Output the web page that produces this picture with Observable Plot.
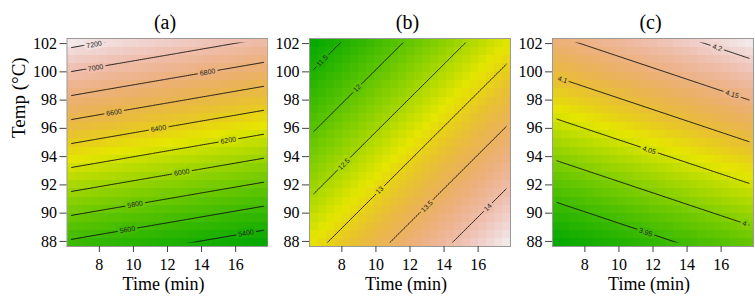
<!DOCTYPE html>
<html>
<head>
<meta charset="utf-8">
<script src="https://cdn.jsdelivr.net/npm/d3@7"></script>
<script src="https://cdn.jsdelivr.net/npm/@observablehq/plot@0.6"></script>
<style>
  html, body { margin: 0; padding: 0; background: #fff; }
  #row { display: flex; flex-direction: row; width: 755px; height: 305px; }
  #row svg { display: block; }
</style>
</head>
<body>
<div id="row"></div>
<script>
// ---------- data ----------
const titles = ["(a)", "(b)", "(c)"];
const xLabel = "Time (min)";
const yLabel = "Temp (°C)";
const timeTicks = [8, 10, 12, 14, 16];
const tempTicks = [88, 90, 92, 94, 96, 98, 100, 102];

// plotted extent (cell edges) and design extent (cell centres)
const timeDomain = [6.1, 17.9];
const tempDomain = [87.64, 102.36];
const timeDesign = [6.34, 17.66];
const tempDesign = [87.93, 102.07];
const cells = 25;

// coarse grid of surface values (rows = temps, cols = times)
const gridTime = [6.1, 12, 17.9];
const gridTemp = [87.64, 95, 102.36];
const valuesA = [
  [5547, 5402, 5258],
  [6415, 6270, 6125],
  [7282, 7138, 6993]
];
const valuesB = [
  [12.889, 13.693, 14.497],
  [12.054, 12.858, 13.662],
  [11.218, 12.022, 12.826]
];
const valuesC = [
  [3.8954, 3.9357, 3.9760],
  [4.0202, 4.0605, 4.1008],
  [4.1449, 4.1852, 4.2255]
];

// contour levels and where their labels sit
const levelsA = [5400, 5600, 5800, 6000, 6200, 6400, 6600, 6800, 7000, 7200];
const labelTimeA = [16.61, 9.65, 10.1, 12.84, 15.57, 11.47, 8.86, 14.35, 7.78, 7.69];
const labelTempA = [88.58, 88.83, 90.62, 92.88, 95.15, 95.99, 97.12, 99.97, 100.28, 101.93];

const levelsB = [11.5, 12, 12.5, 13, 13.5, 14];
const labelTimeB = [6.85, 8.90, 8.12, 10.22, 12.99, 16.57];
const labelTempB = [100.78, 98.85, 93.47, 91.63, 90.48, 90.41];

const levelsC = [3.95, 4, 4.05, 4.1, 4.15, 4.2];
const labelTimeC = [11.57, 17.37, 11.77, 6.69, 16.65, 15.77];
const labelTempC = [88.64, 89.26, 94.45, 99.45, 98.41, 101.71];

// ---------- terrain colours (R terrain.colors) ----------
function hsv(h, s, v) {
  const i = Math.floor(h * 6), f = h * 6 - i;
  const p = v * (1 - s), q = v * (1 - f * s), t = v * (1 - (1 - f) * s);
  let r, g, b;
  switch (((i % 6) + 6) % 6) {
    case 0: r = v; g = t; b = p; break;
    case 1: r = q; g = v; b = p; break;
    case 2: r = p; g = v; b = t; break;
    case 3: r = p; g = q; b = v; break;
    case 4: r = t; g = p; b = v; break;
    default: r = v; g = p; b = q;
  }
  return `rgb(${Math.round(r * 255)},${Math.round(g * 255)},${Math.round(b * 255)})`;
}
function terrain(t) {
  t = Math.max(0, Math.min(1, t));
  if (t <= 0.5) { const u = t / 0.5; return hsv((4 - 2 * u) / 12, 1, 0.65 + 0.25 * u); }
  const u = (t - 0.5) / 0.5;
  return hsv((2 - 2 * u) / 12, 1 - u, 0.9 + 0.05 * u);
}

function samples(values) {
  const out = [];
  gridTemp.forEach((T, i) => gridTime.forEach((t, j) => out.push({t, T, v: values[i][j]})));
  return out;
}
function labels(levels, times, temps) {
  return levels.map((v, i) => ({v, t: times[i], T: temps[i], label: String(v)}));
}

let clipCount = 0;
function panel({title, values, levels, lt, lT, rotate, width, marginLeft, showYLabel}) {
  const data = samples(values);
  const labs = labels(levels, lt, lT);
  const marks = [
    Plot.raster(data, {
      x: "t", y: "T", fill: "v", interpolate: "barycentric",
      x1: timeDomain[0], x2: timeDomain[1], y1: tempDomain[0], y2: tempDomain[1],
      width: cells, height: cells, imageRendering: "pixelated"
    }),
    Plot.contour(data, {
      x: "t", y: "T", value: "v", interpolate: "barycentric",
      x1: timeDomain[0], x2: timeDomain[1], y1: tempDomain[0], y2: tempDomain[1],
      thresholds: levels, stroke: "#111", fill: "none", strokeWidth: 0.9
    }),
    Plot.text(labs, {
      x: "t", y: "T", text: "label", rotate,
      fill: "#222", stroke: "v", strokeWidth: 5, paintOrder: "stroke", strokeLinejoin: "round",
      fontFamily: "'Liberation Sans', Arial, sans-serif", fontSize: 7
    }),
    Plot.frame({stroke: "#999"}),
    Plot.axisX({ticks: timeTicks, tickSize: 6, tickPadding: 6, label: null, stroke: "#444", fontSize: 16}),
    Plot.axisY({ticks: tempTicks, tickSize: 7, tickPadding: 3, label: null, stroke: "#444", fontSize: 16}),
    Plot.text([title], {frameAnchor: "top", dx: -2.5, dy: -10, lineAnchor: "bottom", fontSize: 20}),
    Plot.text([xLabel], {frameAnchor: "bottom", dx: -4, dy: 43, lineAnchor: "bottom", fontSize: 18})
  ];
  if (showYLabel) {
    marks.push(Plot.text([yLabel], {frameAnchor: "left", dx: -48, dy: -4.5, rotate: -90, lineAnchor: "middle", fontSize: 19}));
  }
  const svg = Plot.plot({
    width, height: 305,
    marginLeft, marginRight: width - marginLeft - 201, marginTop: 38, marginBottom: 59,
    x: {domain: timeDomain},
    y: {domain: tempDomain},
    color: {type: "linear", interpolate: terrain},
    style: {fontFamily: "'Liberation Serif', 'Times New Roman', serif", fontSize: "16px", color: "black", background: "white", overflow: "visible"},
    marks
  });
  // contour lines run between the outermost cell centres, as in the original
  const xs = svg.scale("x"), ys = svg.scale("y");
  const g = svg.querySelector('g[aria-label="contour"]');
  if (g) {
    const id = "contour-clip-" + (clipCount++);
    const ns = "http://www.w3.org/2000/svg";
    const defs = document.createElementNS(ns, "defs");
    const cp = document.createElementNS(ns, "clipPath");
    cp.setAttribute("id", id);
    const r = document.createElementNS(ns, "rect");
    const x0 = xs.apply(timeDesign[0]), x1 = xs.apply(timeDesign[1]);
    const y0 = ys.apply(tempDesign[1]), y1 = ys.apply(tempDesign[0]);
    r.setAttribute("x", Math.min(x0, x1));
    r.setAttribute("y", Math.min(y0, y1));
    r.setAttribute("width", Math.abs(x1 - x0));
    r.setAttribute("height", Math.abs(y1 - y0));
    cp.appendChild(r);
    defs.appendChild(cp);
    svg.insertBefore(defs, svg.firstChild);
    g.setAttribute("clip-path", `url(#${id})`);
  }
  return svg;
}

const row = document.getElementById("row");
row.append(panel({title: titles[0], values: valuesA, levels: levelsA, lt: labelTimeA, lT: labelTempA, rotate: -10, width: 268, marginLeft: 66.5, showYLabel: true}));
row.append(panel({title: titles[1], values: valuesB, levels: levelsB, lt: labelTimeB, lT: labelTempB, rotate: -45, width: 243, marginLeft: 41, showYLabel: false}));
row.append(panel({title: titles[2], values: valuesC, levels: levelsC, lt: labelTimeC, lT: labelTempC, rotate: 18.5, width: 244, marginLeft: 41, showYLabel: false}));
</script>
</body>
</html>
